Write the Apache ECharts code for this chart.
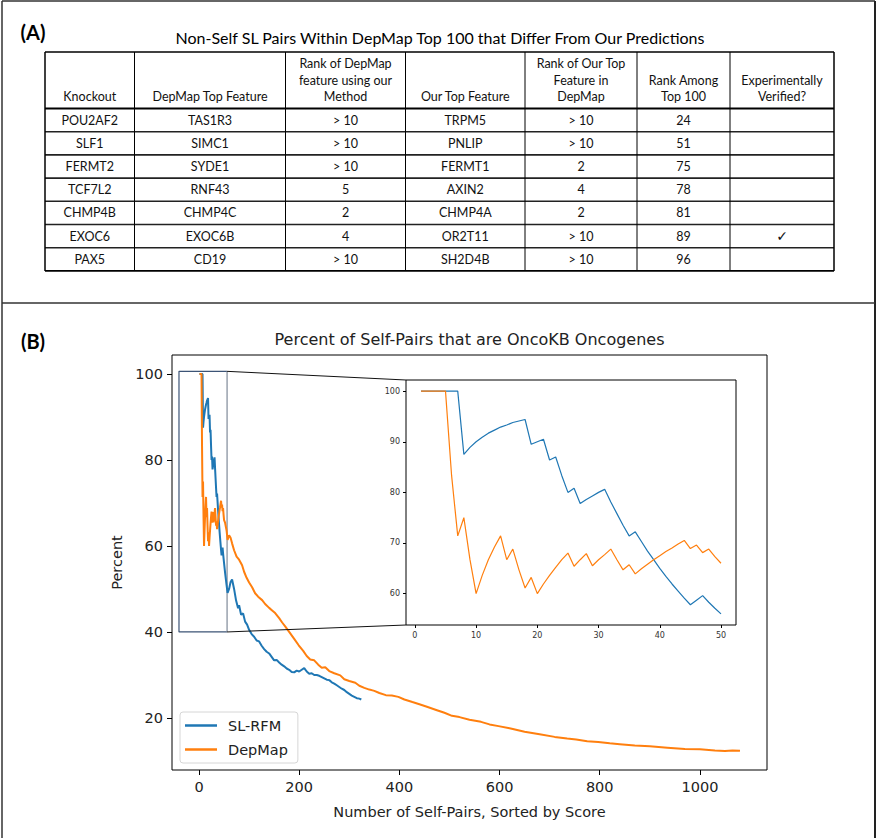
<!DOCTYPE html>
<html><head><meta charset="utf-8">
<script src="https://cdn.jsdelivr.net/npm/echarts@6/dist/echarts.min.js"></script>
<style>html,body{margin:0;padding:0;background:#fff}#c{width:877px;height:838px}</style>
</head><body><div id="c"></div>
<script>
// ---------- Panel A: table data ----------
const tableTitle = 'Non-Self SL Pairs Within DepMap Top 100 that Differ From Our Predictions';
const tableHeaders = [['Knockout'], ['DepMap Top Feature'], ['Rank of DepMap', 'feature using our', 'Method'], ['Our Top Feature'], ['Rank of Our Top', 'Feature in', 'DepMap'], ['Rank Among', 'Top 100'], ['Experimentally', 'Verified?']];
const knockouts = ['POU2AF2', 'SLF1', 'FERMT2', 'TCF7L2', 'CHMP4B', 'EXOC6', 'PAX5'];
const depmapTopFeature = ['TAS1R3', 'SIMC1', 'SYDE1', 'RNF43', 'CHMP4C', 'EXOC6B', 'CD19'];
const rankDepmapInOurs = ['> 10', '> 10', '> 10', '5', '2', '4', '> 10'];
const ourTopFeature = ['TRPM5', 'PNLIP', 'FERMT1', 'AXIN2', 'CHMP4A', 'OR2T11', 'SH2D4B'];
const rankOursInDepmap = ['> 10', '> 10', '2', '4', '2', '> 10', '> 10'];
const rankAmongTop100 = ['24', '51', '75', '78', '81', '89', '96'];
const experimentallyVerified = ['', '', '', '', '', '\u2713', ''];

// ---------- Panel B: chart data ----------
const chartTitle = 'Percent of Self-Pairs that are OncoKB Oncogenes';
const xTicks = [0, 200, 400, 600, 800, 1000];
const yTicks = [20, 40, 60, 80, 100];
const insetXTicks = [0, 10, 20, 30, 40, 50];
const insetYTicks = [60, 70, 80, 90, 100];
// first 50 self-pairs
const firstX = [1,2,3,4,5,6,7,8,9,10,11,12,13,14,15,16,17,18,19,20,21,22,23,24,25,26,27,28,29,30,31,32,33,34,35,36,37,38,39,40,41,42,43,44,45,46,47,48,49,50];
const slrfmFirst = [100,100,100,100,100,100,100,87.5,88.9,90,90.9,91.7,92.3,92.9,93.3,93.8,94.1,94.4,89.5,90,90.5,86.4,87,83.3,80,80.8,77.8,78.6,79.3,80,80.6,78.1,75.8,73.5,71.4,72.2,70.3,68.4,66.7,65,63.4,61.9,60.5,59.1,57.8,58.7,59.6,58.3,57.1,56];
const depmapFirst = [100,100,100,100,100,83.3,71.4,75,66.7,60,63.6,66.7,69.2,71.4,66.7,68.8,64.7,61.1,63.2,60,61.9,63.6,65.2,66.7,68,65.4,66.7,67.9,65.5,66.7,67.7,68.8,66.7,64.7,65.7,63.9,64.9,65.8,66.7,67.5,68.3,69,69.8,70.5,68.9,69.6,68.1,68.8,67.3,66];
// remainder of the curves
const slrfmTailX = [52,55,57,60,63,66,70,74,78,80,84,88,92,96,100,105,110,115,120,125,130,135,140,145,150,155,160,165,170,175,180,185,190,195,200,205,210,215,220,225,230,235,240,245,250,255,260,265,270,275,280,285,290,295,300,305,310,315,320,324];
const slrfmTailY = [53.8,50.9,49.1,50,51.6,52.2,50,47.3,45.5,46.2,44,44.3,42.4,41.7,40.5,39.5,38.9,38,37.8,36.8,36,35.4,35,34.2,33.4,33.5,32.9,32.4,32,31.5,31.2,30.7,30.6,31,30.8,31.2,31.6,30.8,30.3,30.4,30,30,29.8,29.5,29.2,28.9,28.8,28.3,28,27.6,27.2,26.8,26.5,26,25.6,25.2,24.9,24.6,24.5,24.3];
const depmapTailX = [52,55,57,60,63,66,70,75,80,86,90,95,100,106,112,118,126,132,140,146,152,160,166,172,180,190,199,208,215,222,230,238,245,252,260,270,282,290,300,312,320,330,340,350,360,373,385,398,410,426,440,455,475,490,505,520,540,563,580,598,620,650,680,710,735,753,775,797,820,840,870,900,935,970,1000,1030,1050,1065,1080];
const depmapTailY = [65.4,63.6,61.4,62.5,61.9,60.6,59,57.5,56.8,55.5,54,52.6,51.5,50.4,49,48.2,47.4,46.5,45.6,45,44.4,43.2,42.2,41.3,40,38.4,36.9,35.6,34.4,33.6,33.4,32.4,31.7,31.8,30.9,30.4,29.9,29,28.6,28.2,27.5,27,26.6,26.3,25.8,25.3,25.2,24.9,24.3,23.7,23.2,22.6,21.8,21.2,20.5,20.2,19.6,19.1,18.5,18.1,17.6,16.8,16.2,15.6,15.2,15,14.6,14.4,14.1,13.9,13.6,13.4,13.1,12.8,12.7,12.45,12.3,12.45,12.4];
// zoom rectangle extent in main-axis data units
const zoomBoxX = [-40, 56];
const zoomBoxY = [40, 100.6];

// ---------- build ----------
const BLUE = '#1f77b4', ORANGE = '#ff7f0e';
const zip = (xs, ys) => xs.map((x, i) => [x, ys[i]]);
const slrfmMain = zip(firstX.concat(slrfmTailX), slrfmFirst.concat(slrfmTailY));
const depmapMain = zip(firstX.concat(depmapTailX), depmapFirst.concat(depmapTailY));

const mainRange = { xmin: -53.95, xmax: 1133.95, ymin: 7.9, ymax: 104.4 };
const insetRange = { xmin: -1.45, xmax: 52.45, ymin: 53.8, ymax: 102.2 };

const chart = echarts.init(document.getElementById('c'), null, { renderer: 'svg' });
const sansFont = '"DejaVu Sans", sans-serif';
const tableFont = 'Lato, "Open Sans", "DejaVu Sans", sans-serif';
const plain = v => String(v);

chart.setOption({
  animation: false,
  backgroundColor: '#fff',
  grid: [
    { left: 172, right: 110, top: 355, bottom: 68, show: true, borderColor: '#000', borderWidth: 1, backgroundColor: '#fff', containLabel: false },
    { left: 406, right: 141, top: 380, bottom: 213, show: true, borderColor: '#000', borderWidth: 1, backgroundColor: '#fff', containLabel: false, z: 5 }
  ],
  legend: {
    data: [
      { name: 'SL-RFM', icon: 'rect', itemStyle: { color: BLUE } },
      { name: 'DepMap', icon: 'rect', itemStyle: { color: ORANGE } }
    ],
    orient: 'vertical', left: 180, top: 712,
    itemWidth: 32, itemHeight: 2.5, itemGap: 9,
    padding: [6, 10, 6, 5], borderColor: '#d6d6d6', borderWidth: 1, borderRadius: 3,
    backgroundColor: 'rgba(255,255,255,0.8)',
    textStyle: { fontFamily: sansFont, fontSize: 14.5, color: '#222', padding: [0, 0, 0, 6] }
  },
  xAxis: [
    { type: 'value', gridIndex: 0, min: mainRange.xmin, max: mainRange.xmax,
      name: 'Number of Self-Pairs, Sorted by Score', nameLocation: 'middle', nameGap: 34,
      nameTextStyle: { fontFamily: sansFont, fontSize: 14.5, color: '#222' },
      axisLine: { show: false, onZero: false }, splitLine: { show: false },
      axisTick: { show: true, length: 5, inside: false, customValues: xTicks, lineStyle: { color: '#000' } },
      axisLabel: { customValues: xTicks, formatter: plain, fontFamily: sansFont, fontSize: 14.5, color: '#222', margin: 9 } },
    { type: 'value', gridIndex: 1, min: insetRange.xmin, max: insetRange.xmax,
      axisLine: { show: false, onZero: false }, splitLine: { show: false },
      axisTick: { show: true, length: 3, customValues: insetXTicks, lineStyle: { color: '#000' } },
      axisLabel: { customValues: insetXTicks, formatter: plain, fontFamily: sansFont, fontSize: 8, color: '#333', margin: 6 } }
  ],
  yAxis: [
    { type: 'value', gridIndex: 0, min: mainRange.ymin, max: mainRange.ymax,
      name: 'Percent', nameLocation: 'middle', nameGap: 48, nameRotate: 90,
      nameTextStyle: { fontFamily: sansFont, fontSize: 14.5, color: '#222' },
      axisLine: { show: false, onZero: false }, splitLine: { show: false },
      axisTick: { show: true, length: 5, customValues: yTicks, lineStyle: { color: '#000' } },
      axisLabel: { customValues: yTicks, formatter: plain, fontFamily: sansFont, fontSize: 14.5, color: '#222', margin: 9 } },
    { type: 'value', gridIndex: 1, min: insetRange.ymin, max: insetRange.ymax,
      axisLine: { show: false, onZero: false }, splitLine: { show: false },
      axisTick: { show: true, length: 3, customValues: insetYTicks, lineStyle: { color: '#000' } },
      axisLabel: { customValues: insetYTicks, formatter: plain, fontFamily: sansFont, fontSize: 8, color: '#333', margin: 6 } }
  ],
  series: [
    { name: 'SL-RFM', type: 'line', xAxisIndex: 0, yAxisIndex: 0, data: slrfmMain, showSymbol: false, symbol: 'none',
      color: BLUE, lineStyle: { color: BLUE, width: 2 }, z: 3 },
    { name: 'DepMap', type: 'line', xAxisIndex: 0, yAxisIndex: 0, data: depmapMain, showSymbol: false, symbol: 'none',
      color: ORANGE, lineStyle: { color: ORANGE, width: 2 }, z: 3 },
    { name: 'box', type: 'line', xAxisIndex: 0, yAxisIndex: 0, symbol: 'none', silent: true,
      data: [[zoomBoxX[1], zoomBoxY[1]], [zoomBoxX[0], zoomBoxY[1]], [zoomBoxX[0], zoomBoxY[0]], [zoomBoxX[1], zoomBoxY[0]]],
      lineStyle: { color: '#3c5476', width: 1.2 }, z: 2 },
    { name: 'boxRight', type: 'line', xAxisIndex: 0, yAxisIndex: 0, symbol: 'none', silent: true,
      data: [[zoomBoxX[1], zoomBoxY[1]], [zoomBoxX[1], zoomBoxY[0]]],
      lineStyle: { color: '#7f8a99', width: 1.2 }, z: 2 },
    { name: 'SL-RFM', type: 'line', xAxisIndex: 1, yAxisIndex: 1, data: zip(firstX, slrfmFirst), showSymbol: false, symbol: 'none',
      color: BLUE, lineStyle: { color: BLUE, width: 1.2 }, z: 6 },
    { name: 'DepMap', type: 'line', xAxisIndex: 1, yAxisIndex: 1, data: zip(firstX, depmapFirst), showSymbol: false, symbol: 'none',
      color: ORANGE, lineStyle: { color: ORANGE, width: 1.2 }, z: 6 }
  ]
});

// ---------- graphics: frame, table, labels, connectors ----------
const g = [];
const line = (x1, y1, x2, y2, color, w) => g.push({ type: 'line', silent: true, shape: { x1, y1, x2, y2 }, style: { stroke: color, lineWidth: w }, z: 10 });
const text = (t, x, y, size, opts) => g.push(Object.assign({ type: 'text', silent: true, x, y, z: 11,
  style: Object.assign({ text: t, fontSize: size, fontFamily: tableFont, fill: '#111', textAlign: 'center', textVerticalAlign: 'middle' }, (opts || {})) }));

// figure frame
line(2, 1, 875, 1, '#333', 1.5);
line(2, 1, 2, 838, '#333', 1.5);
line(875, 1, 875, 838, '#222', 2);
line(2, 303, 875, 303, '#333', 1.5);

// panel labels
text('(A)', 33, 32, 20, { fontWeight: 'bold', fill: '#000' });
text('(B)', 33, 341, 20, { fontWeight: 'bold', fill: '#000' });

// table
text(tableTitle, 440, 37, 16, { fill: '#000' });
const colX = [45, 134.5, 285.5, 405.5, 525, 637, 730, 834];
const headTop = 52, headBottom = 108.5, rowH = 23.2;
const columns = [knockouts, depmapTopFeature, rankDepmapInOurs, ourTopFeature, rankOursInDepmap, rankAmongTop100, experimentallyVerified];
const nRows = knockouts.length;
const tableBottom = headBottom + nRows * rowH;
tableHeaders.forEach((lines, c) => {
  const cx = (colX[c] + colX[c + 1]) / 2;
  lines.forEach((t, i) => {
    const y = 96.7 - (lines.length - 1 - i) * 16.5;
    text(t, cx, y, 12.5);
  });
});
columns.forEach((vals, c) => {
  const cx = (colX[c] + colX[c + 1]) / 2;
  vals.forEach((v, r) => {
    if (v) text(v, cx, headBottom + (r + 0.5) * rowH, 12.5, v === '\u2713' ? { fontFamily: '"DejaVu Sans", sans-serif', fontSize: 14 } : {});
  });
});
line(colX[0], headTop, colX[7], headTop, '#000', 1.5);
line(colX[0], headBottom, colX[7], headBottom, '#000', 2);
for (let r = 1; r < nRows; r++) line(colX[0], headBottom + r * rowH, colX[7], headBottom + r * rowH, '#222', 1.6);
line(colX[0], tableBottom, colX[7], tableBottom, '#000', 1.6);
colX.forEach((x, i) => line(x, headTop, x, tableBottom, '#000', (i === 0 || i === 7) ? 1.5 : 1));

// chart title
text(chartTitle, 469.5, 339, 16, { fontFamily: sansFont, fill: '#222' });

// connectors from zoom box to inset
const p1 = chart.convertToPixel({ xAxisIndex: 0, yAxisIndex: 0 }, [zoomBoxX[1], zoomBoxY[1]]);
const p2 = chart.convertToPixel({ xAxisIndex: 0, yAxisIndex: 0 }, [zoomBoxX[1], zoomBoxY[0]]);
const q1 = chart.convertToPixel({ xAxisIndex: 1, yAxisIndex: 1 }, [insetRange.xmin, insetRange.ymax]);
const q2 = chart.convertToPixel({ xAxisIndex: 1, yAxisIndex: 1 }, [insetRange.xmin, insetRange.ymin]);
line(p1[0], p1[1], q1[0], q1[1], '#111', 1);
line(p2[0], p2[1], q2[0], q2[1], '#111', 1);

chart.setOption({ graphic: { elements: g } });
</script>
</body></html>
